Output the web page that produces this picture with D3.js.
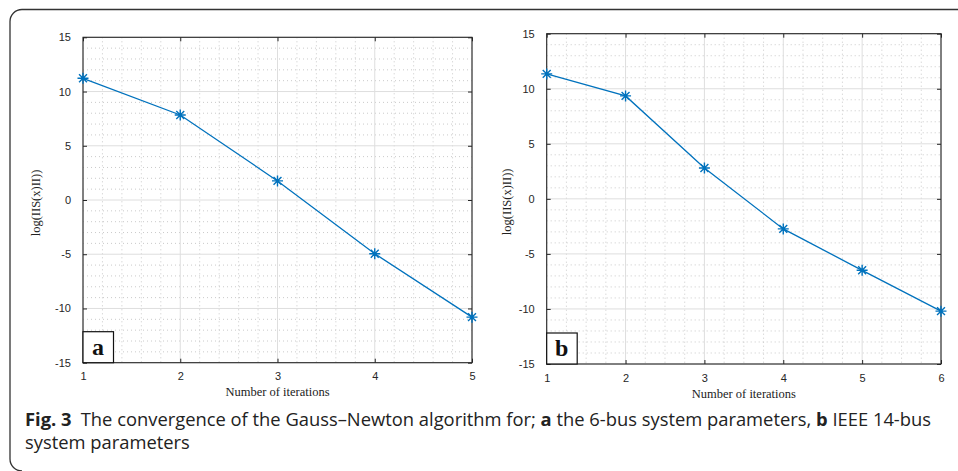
<!DOCTYPE html>
<html><head><meta charset="utf-8">
<script src="https://cdn.jsdelivr.net/npm/d3@7"></script>
<style>html,body{margin:0;padding:0;background:#fff;}svg{display:block;}</style>
</head><body>
<svg id="c" width="958" height="471"></svg>
<script>
// ---- data ----
const iterationsA = [1, 2, 3, 4, 5];
const valuesA = [11.22, 7.84, 1.76, -4.95, -10.8];
const iterationsB = [1, 2, 3, 4, 5, 6];
const valuesB = [11.35, 9.35, 2.8, -2.73, -6.49, -10.2];
const yTicks = [-15, -10, -5, 0, 5, 10, 15];
const xTicksA = [1, 2, 3, 4, 5];
const xTicksB = [1, 2, 3, 4, 5, 6];
const panelLabels = ["a", "b"];
const xTitle = "Number of iterations";
const yTitle = "log(IIS(x)II))";

const svg = d3.select("#c");
const blue = "#0072BD";
const fmt = d => String(d);

// outer frame
svg.append("path")
  .attr("d", "M958,9.5 H22 A12,12 0 0 0 10,21.5 V459 A12,12 0 0 0 22,471")
  .attr("fill", "none").attr("stroke", "#333").attr("stroke-width", 1.3);

function panel(cfg) {
  const {xs, ys, xTicks, label, L, R, T, B, minorX, ylabX, xlabY} = cfg;
  const x = d3.scaleLinear().domain([xTicks[0], xTicks[xTicks.length - 1]]).range([L, R]);
  const y = d3.scaleLinear().domain([-15, 15]).range([B, T]);
  const g = svg.append("g");
  // minor grid
  const mx = d3.range(xTicks[0], xTicks[xTicks.length - 1] + 1e-9, minorX).filter(v => Math.abs(v - Math.round(v)) > 1e-6);
  const my = d3.range(-15, 15.0001, 1).filter(v => v % 5 !== 0);
  g.selectAll(".mx").data(mx).join("line")
    .attr("x1", d => x(d)).attr("x2", d => x(d)).attr("y1", T).attr("y2", B)
    .attr("stroke", "#bdbdbd").attr("stroke-width", 0.8).attr("stroke-dasharray", "1,3");
  g.selectAll(".my").data(my).join("line")
    .attr("x1", L).attr("x2", R).attr("y1", d => y(d)).attr("y2", d => y(d))
    .attr("stroke", "#bdbdbd").attr("stroke-width", 0.8).attr("stroke-dasharray", "1,3");
  // major grid
  g.selectAll(".gx").data(xTicks).join("line")
    .attr("x1", d => x(d)).attr("x2", d => x(d)).attr("y1", T).attr("y2", B)
    .attr("stroke", "#dedede").attr("stroke-width", 1);
  g.selectAll(".gy").data(yTicks).join("line")
    .attr("x1", L).attr("x2", R).attr("y1", d => y(d)).attr("y2", d => y(d))
    .attr("stroke", "#dedede").attr("stroke-width", 1);
  // axes (inward ticks on all four sides)
  const tk = 4;
  const fontT = "Liberation Sans, Arial, sans-serif";
  g.append("g").attr("transform", `translate(0,${B})`)
    .call(d3.axisBottom(x).tickValues(xTicks).tickSizeInner(-tk).tickSizeOuter(0).tickPadding(10).tickFormat(fmt))
    .call(a => a.select(".domain").remove());
  g.append("g").attr("transform", `translate(0,${T})`)
    .call(d3.axisTop(x).tickValues(xTicks).tickSizeInner(-tk).tickSizeOuter(0).tickFormat(""))
    .call(a => a.select(".domain").remove());
  g.append("g").attr("transform", `translate(${L},0)`)
    .call(d3.axisLeft(y).tickValues(yTicks).tickSizeInner(-tk).tickSizeOuter(0).tickPadding(12).tickFormat(fmt))
    .call(a => a.select(".domain").remove());
  g.append("g").attr("transform", `translate(${R},0)`)
    .call(d3.axisRight(y).tickValues(yTicks).tickSizeInner(-tk).tickSizeOuter(0).tickFormat(""))
    .call(a => a.select(".domain").remove());
  g.selectAll(".tick line").attr("stroke", "#262626");
  g.selectAll(".tick text").attr("font-family", fontT).attr("font-size", 11).attr("fill", "#262626");
  g.append("rect").attr("x", L).attr("y", T).attr("width", R - L).attr("height", B - T)
    .attr("fill", "none").attr("stroke", "#262626").attr("stroke-width", 1.1);
  // line
  const pts = xs.map((v, i) => [v, ys[i]]);
  g.append("path").datum(pts)
    .attr("d", d3.line().x(d => x(d[0])).y(d => y(d[1])))
    .attr("fill", "none").attr("stroke", blue).attr("stroke-width", 1.3);
  // asterisk markers
  const r = 5.5;
  const star = `M${-r},0H${r}M0,${-r}V${r}M${-r*0.72},${-r*0.72}L${r*0.72},${r*0.72}M${-r*0.72},${r*0.72}L${r*0.72},${-r*0.72}`;
  g.selectAll(".mk").data(pts).join("path")
    .attr("transform", d => `translate(${x(d[0])},${y(d[1])})`)
    .attr("d", star).attr("stroke", blue).attr("stroke-width", 1.4).attr("fill", "none");
  // panel label box
  g.append("rect").attr("x", L).attr("y", B - 31).attr("width", 30.5).attr("height", 31)
    .attr("fill", "#fff").attr("stroke", "#111").attr("stroke-width", 1.2);
  g.append("text").attr("x", L + 15).attr("y", B - 8).attr("text-anchor", "middle")
    .attr("font-family", "Liberation Serif, Times New Roman, serif").attr("font-weight", "bold")
    .attr("font-size", 24).attr("fill", "#111").text(label);
  // axis titles
  g.append("text").attr("x", (L + R) / 2).attr("y", xlabY).attr("text-anchor", "middle")
    .attr("font-family", "Liberation Serif, Times New Roman, serif").attr("font-size", 12.5).attr("fill", "#222")
    .text(xTitle);
  g.append("text").attr("transform", `translate(${ylabX},${(T + B) / 2 + 3}) rotate(-90)`).attr("text-anchor", "middle")
    .attr("font-family", "Liberation Serif, Times New Roman, serif").attr("font-size", 12.5).attr("fill", "#222")
    .text(yTitle);
}

panel({xs: iterationsA, ys: valuesA, xTicks: xTicksA, label: panelLabels[0],
  L: 83, R: 472, T: 37.3, B: 362.7, minorX: 0.2, ylabX: 40, xlabY: 396});
panel({xs: iterationsB, ys: valuesB, xTicks: xTicksB, label: panelLabels[1],
  L: 546.7, R: 941, T: 33.7, B: 364, minorX: 0.25, ylabX: 511, xlabY: 398});

// caption (condensed to the same factor on both lines)
const capFont = "'Open Sans', 'Noto Sans', sans-serif";
const t1 = svg.append("text").attr("x", 25).attr("y", 426).attr("font-family", capFont)
  .attr("font-size", 18).attr("fill", "#222");
t1.append("tspan").attr("font-weight", "bold").text("Fig. 3");
t1.append("tspan").text("\u2002The convergence of the Gauss\u2013Newton algorithm for; ");
t1.append("tspan").attr("font-weight", "bold").text("a");
t1.append("tspan").text(" the 6-bus system parameters, ");
t1.append("tspan").attr("font-weight", "bold").text("b");
t1.append("tspan").text(" IEEE 14-bus");
const t2 = svg.append("text").attr("x", 25).attr("y", 449).attr("font-family", capFont)
  .attr("font-size", 18).attr("fill", "#222").text("system parameters");
const w1 = t1.node().getComputedTextLength();
const w2 = t2.node().getComputedTextLength();
const factor = 906 / w1;
t1.attr("textLength", 906).attr("lengthAdjust", "spacingAndGlyphs");
t2.attr("textLength", w2 * factor).attr("lengthAdjust", "spacingAndGlyphs");
</script>
</body></html>
